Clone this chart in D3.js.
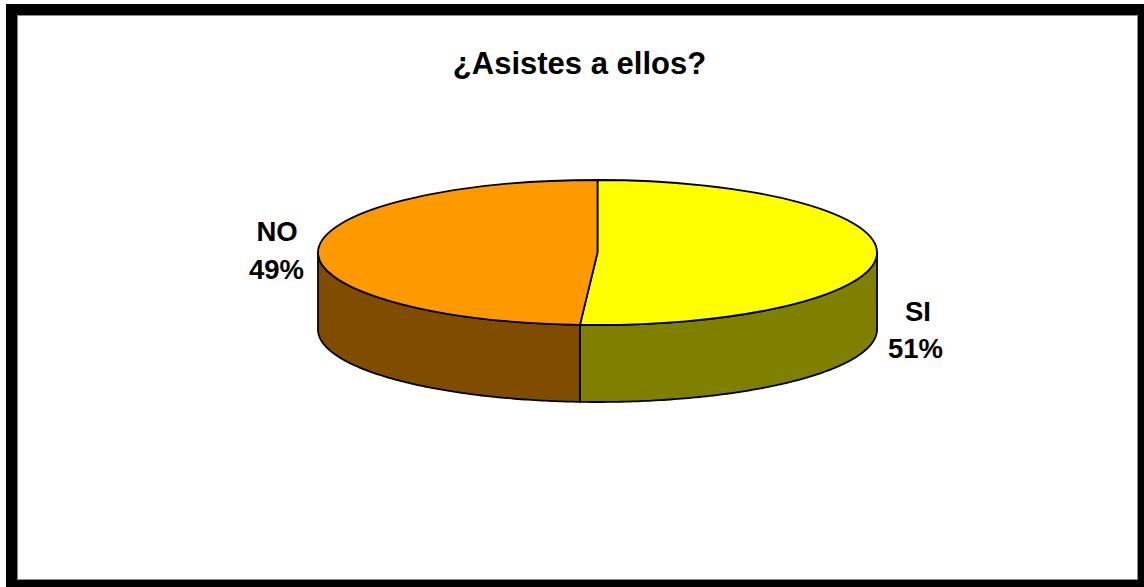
<!DOCTYPE html>
<html>
<head>
<meta charset="utf-8">
<script src="https://cdn.jsdelivr.net/npm/d3@7/dist/d3.min.js"></script>
<style>
html, body { margin: 0; padding: 0; background: #fff; }
svg { display: block; }
text { font-family: "Liberation Sans", Arial, sans-serif; font-weight: bold; fill: #000; }
</style>
</head>
<body>
<svg id="chart" width="1144" height="587"></svg>
<script>
// Survey answers and their slice styling
const categories = ["SI", "NO"];
const percentages = [51, 49];
const topColors = ["#ffff00", "#ff9900"];
const wallColors = ["#808000", "#804d00"];
const nameAnchors = [[918, 321], [277, 241]];
const valueAnchors = [[915.5, 358], [276.5, 279]];
const chartTitle = "¿Asistes a ellos?";

const width = 1144, height = 587;
const cx = 597.5, cy = 252.5, rx = 279.5, ry = 72.5, depth = 77;

const svg = d3.select("#chart");

// Heavy black frame with a faint grey inner edge
svg.append("rect").attr("x", 6).attr("y", 4).attr("width", width - 6).attr("height", height - 4).attr("fill", "#000");
svg.append("rect").attr("x", 17.5).attr("y", 15.5).attr("width", 1120).attr("height", 564)
  .attr("fill", "#fff").attr("stroke", "#8a8a8a").attr("stroke-width", 1);

svg.append("text").attr("x", 579.5).attr("y", 74).attr("text-anchor", "middle")
  .attr("font-size", 31).text(chartTitle);

const slices = d3.pie().sort(null)(percentages);

// Ellipse position for a clockwise-from-top angle
const ex = a => cx + rx * Math.sin(a);
const ey = a => cy - ry * Math.cos(a);

// Only the front half of the rim (90deg to 270deg) is visible
const wallArea = d3.area().x(ex).y0(ey).y1(a => ey(a) + depth);
const rimSteps = 120;
const chart = svg.append("g").attr("stroke", "#000").attr("stroke-width", 1.8).attr("stroke-linejoin", "round");

slices.forEach((s, i) => {
  const start = Math.max(s.startAngle, Math.PI / 2);
  const end = Math.min(s.endAngle, 3 * Math.PI / 2);
  if (end <= start) return;
  const angles = d3.range(rimSteps + 1).map(k => start + (end - start) * k / rimSteps);
  chart.append("path").attr("d", wallArea(angles)).attr("fill", wallColors[i]);
});

// Top face: a circular arc squashed onto the ellipse
const arc = d3.arc().innerRadius(0).outerRadius(rx);
slices.forEach((s, i) => {
  chart.append("path")
    .attr("d", arc(s))
    .attr("transform", `translate(${cx},${cy}) scale(1,${ry / rx})`)
    .attr("vector-effect", "non-scaling-stroke")
    .attr("fill", topColors[i]);
});

// Two-line labels: category name over its percentage
slices.forEach((s, i) => {
  const label = svg.append("text").attr("text-anchor", "middle").attr("font-size", 27.5);
  label.append("tspan").attr("x", nameAnchors[i][0]).attr("y", nameAnchors[i][1]).text(categories[i]);
  label.append("tspan").attr("x", valueAnchors[i][0]).attr("y", valueAnchors[i][1]).text(percentages[i] + "%");
});
</script>
</body>
</html>
